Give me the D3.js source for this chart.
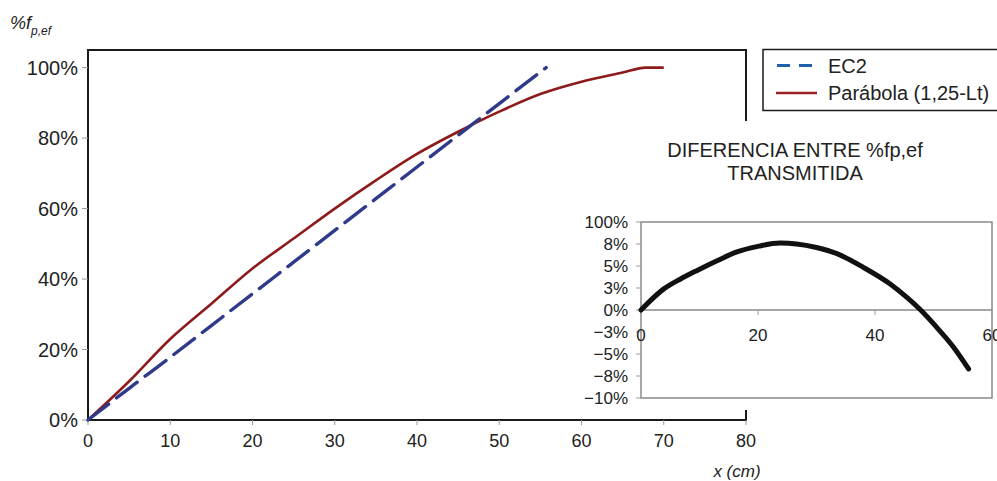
<!DOCTYPE html>
<html>
<head>
<meta charset="utf-8">
<script src="https://cdn.jsdelivr.net/npm/d3@7"></script>
<style>
  html, body { margin: 0; padding: 0; background: #fff; }
  svg { display: block; font-family: "Liberation Sans", Arial, sans-serif; }
</style>
</head>
<body>
<svg id="chart" width="997" height="481"></svg>
<script>
// ---- main chart data: transmitted prestress fraction vs distance x (cm) ----
const ec2X = [0, 5, 10, 15, 20, 25, 30, 35, 40, 45, 50, 55.7];
const ec2Y = [0, 9, 17.8, 26.8, 35.8, 44.8, 53.8, 62.8, 71.8, 80.8, 89.8, 100];

const parX = [0, 5, 10, 15, 20, 25, 30, 35, 40, 45, 50, 55, 60, 65, 67.8, 70];
const parY = [0, 11, 23, 33, 43, 51.5, 60, 68, 75.5, 81.8, 87.5, 92.5, 96, 98.6, 100, 100];

const mainXTicks = [0, 10, 20, 30, 40, 50, 60, 70, 80];
const mainYTicks = [0, 20, 40, 60, 80, 100];
const mainYLabels = ["0%", "20%", "40%", "60%", "80%", "100%"];

// ---- inset data: difference between the two curves ----
const diffX = [0, 3.9, 6.7, 9.6, 13, 16.4, 19.8, 23.8, 26.6, 30, 33.5, 38, 42.6, 45.5, 47.8, 50.6, 53.4, 56];
const diffY = [0, 2.4, 3.5, 4.5, 5.6, 6.6, 7.2, 7.6, 7.5, 7.1, 6.4, 4.85, 2.95, 1.4, 0, -2, -4.2, -6.7];

const insetXTicks = [0, 20, 40, 60];
const insetYTicks = [-10, -7.5, -5, -2.5, 0, 2.5, 5, 7.5, 10];
const insetYLabels = ["\u221210%", "\u22128%", "\u22125%", "\u22123%", "0%", "3%", "5%", "8%", "100%"];

const seriesNames = ["EC2", "Parábola (1,25-Lt)"];
const insetTitle = ["DIFERENCIA ENTRE %fp,ef", "TRANSMITIDA"];

const svg = d3.select("#chart");
const textColor = "#222";

// ---------------- main chart ----------------
const x = d3.scaleLinear().domain([0, 80]).range([88, 746]);
const y = d3.scaleLinear().domain([0, 105]).range([420, 50]);

// plot frame
svg.append("rect")
  .attr("x", x(0)).attr("y", y(105))
  .attr("width", x(80) - x(0)).attr("height", y(0) - y(105))
  .attr("fill", "none").attr("stroke", "#1a1a1a").attr("stroke-width", 2);

// y axis ticks and labels
const yAxis = svg.append("g");
yAxis.selectAll("line").data(mainYTicks).join("line")
  .attr("x1", x(0) - 6).attr("x2", x(0))
  .attr("y1", d => y(d)).attr("y2", d => y(d))
  .attr("stroke", "#999").attr("stroke-width", 1);
yAxis.selectAll("text").data(mainYTicks).join("text")
  .attr("x", 78).attr("y", d => y(d) + 7)
  .attr("text-anchor", "end").attr("font-size", 20).attr("fill", textColor)
  .text((d, i) => mainYLabels[i]);

// x axis ticks and labels
const xAxis = svg.append("g");
xAxis.selectAll("line").data(mainXTicks).join("line")
  .attr("x1", d => x(d)).attr("x2", d => x(d))
  .attr("y1", y(0)).attr("y2", y(0) + 5)
  .attr("stroke", "#999").attr("stroke-width", 1);
xAxis.selectAll("text").data(mainXTicks).join("text")
  .attr("x", d => x(d)).attr("y", 447)
  .attr("text-anchor", "middle").attr("font-size", 18).attr("fill", textColor)
  .text(d => d);

// axis titles
svg.append("text")
  .attr("x", 737).attr("y", 477)
  .attr("text-anchor", "middle").attr("font-size", 17).attr("font-style", "italic")
  .attr("fill", textColor).text("x (cm)");
const yt = svg.append("text")
  .attr("x", 10).attr("y", 29).attr("font-style", "italic").attr("fill", textColor);
yt.append("tspan").attr("font-size", 18).text("%f");
yt.append("tspan").attr("font-size", 12).attr("dy", 6).text("p,ef");

// series lines
const line = d3.line().x(d => x(d[0])).y(d => y(d[1])).curve(d3.curveMonotoneX);
svg.append("path")
  .datum(parX.map((v, i) => [v, parY[i]]))
  .attr("d", line).attr("fill", "none")
  .attr("stroke", "#8e1b1b").attr("stroke-width", 2.6).attr("stroke-linejoin", "round");
svg.append("path")
  .datum(ec2X.map((v, i) => [v, ec2Y[i]]))
  .attr("d", line).attr("fill", "none")
  .attr("stroke", "#2f3a8a").attr("stroke-width", 3.4)
  .attr("stroke-dasharray", "26,10").attr("stroke-linecap", "round");

// ---------------- legend ----------------
const lg = svg.append("g");
lg.append("rect").attr("x", 763).attr("y", 49.5).attr("width", 250).attr("height", 61)
  .attr("fill", "#fff").attr("stroke", "#1a1a1a").attr("stroke-width", 1.5);
lg.append("line").attr("x1", 777).attr("x2", 817).attr("y1", 65.5).attr("y2", 65.5)
  .attr("stroke", "#2160ad").attr("stroke-width", 3).attr("stroke-dasharray", "13,9");
lg.append("line").attr("x1", 776).attr("x2", 817).attr("y1", 93).attr("y2", 93)
  .attr("stroke", "#9a2020").attr("stroke-width", 2.6);
lg.selectAll("text").data(seriesNames).join("text")
  .attr("x", 828).attr("y", (d, i) => 72.5 + i * 27.5)
  .attr("font-size", 20).attr("fill", textColor).text(d => d);

// ---------------- inset chart ----------------
svg.append("rect").attr("x", 572).attr("y", 121).attr("width", 430).attr("height", 289)
  .attr("fill", "#fff");

const ix = d3.scaleLinear().domain([0, 60]).range([641, 992]);
const iy = d3.scaleLinear().domain([-10, 10]).range([398, 222]);

svg.selectAll("text.ititle").data(insetTitle).join("text")
  .attr("class", "ititle")
  .attr("x", 795).attr("y", (d, i) => 157 + i * 22.5)
  .attr("text-anchor", "middle").attr("font-size", 20).attr("fill", textColor)
  .text(d => d);

svg.append("rect")
  .attr("x", ix(0)).attr("y", iy(10))
  .attr("width", ix(60) - ix(0)).attr("height", iy(-10) - iy(10))
  .attr("fill", "none").attr("stroke", "#8a8a8a").attr("stroke-width", 1.5);
svg.append("line")
  .attr("x1", ix(0)).attr("x2", ix(60)).attr("y1", iy(0)).attr("y2", iy(0))
  .attr("stroke", "#8a8a8a").attr("stroke-width", 1.3);

const iyAxis = svg.append("g");
iyAxis.selectAll("line").data(insetYTicks).join("line")
  .attr("x1", ix(0) - 5).attr("x2", ix(0))
  .attr("y1", d => iy(d)).attr("y2", d => iy(d))
  .attr("stroke", "#999").attr("stroke-width", 1);
iyAxis.selectAll("text").data(insetYTicks).join("text")
  .attr("x", 628).attr("y", d => iy(d) + 6)
  .attr("text-anchor", "end").attr("font-size", 17).attr("fill", textColor)
  .text((d, i) => insetYLabels[i]);

const ixAxis = svg.append("g");
ixAxis.selectAll("line").data(insetXTicks).join("line")
  .attr("x1", d => ix(d)).attr("x2", d => ix(d))
  .attr("y1", iy(0)).attr("y2", iy(0) + 5)
  .attr("stroke", "#999").attr("stroke-width", 1);
ixAxis.selectAll("text").data(insetXTicks).join("text")
  .attr("x", d => ix(d)).attr("y", 341)
  .attr("text-anchor", "middle").attr("font-size", 17).attr("fill", textColor)
  .text(d => d);

const iline = d3.line().x(d => ix(d[0])).y(d => iy(d[1])).curve(d3.curveMonotoneX);
svg.append("path")
  .datum(diffX.map((v, i) => [v, diffY[i]]))
  .attr("d", iline).attr("fill", "none")
  .attr("stroke", "#111").attr("stroke-width", 5)
  .attr("stroke-linecap", "round").attr("stroke-linejoin", "round");
</script>
</body>
</html>
